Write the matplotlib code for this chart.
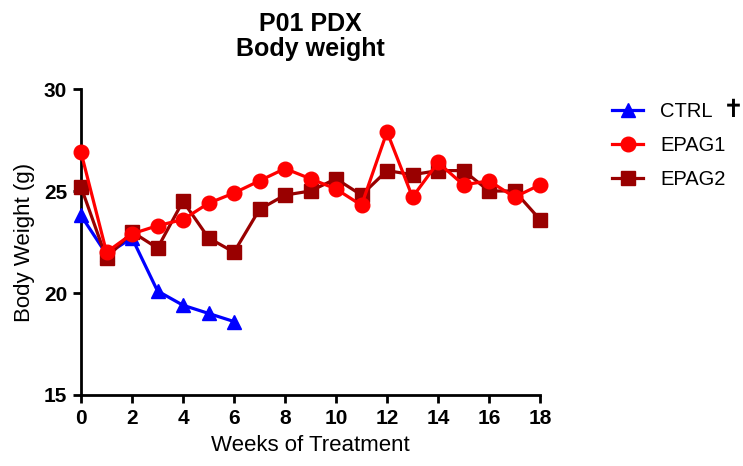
import matplotlib.pyplot as plt

weeks_ctrl = [0, 1, 2, 3, 4, 5, 6]
ctrl = [23.8, 21.9, 22.7, 20.1, 19.4, 19.0, 18.6]

weeks = list(range(19))
epag1 = [26.9, 22.0, 22.9, 23.3, 23.6, 24.4, 24.9, 25.5, 26.1, 25.6,
         25.1, 24.3, 27.9, 24.7, 26.4, 25.3, 25.5, 24.7, 25.3]
epag2 = [25.2, 21.7, 23.0, 22.2, 24.5, 22.7, 22.0, 24.1, 24.8, 25.0,
         25.6, 24.8, 26.0, 25.8, 26.0, 26.0, 25.0, 25.0, 23.6]

plt.rcParams['font.family'] = ['Liberation Sans', 'DejaVu Sans']

fig = plt.figure(figsize=(7.43, 4.66), dpi=100)
ax = fig.add_axes([81 / 743, 1 - 395 / 466, (540 - 81) / 743, (395 - 89) / 466])

ax.plot(weeks_ctrl, ctrl, color='#0000FF', marker='^', markersize=10.5, lw=2.3, label='CTRL', clip_on=False, zorder=3)
ax.plot(weeks, epag1, color='#FF0000', marker='o', markersize=10.5, lw=2.3, label='EPAG1', clip_on=False, zorder=4)
ax.plot(weeks, epag2, color='#990000', marker='s', markersize=9.5, lw=2.3, label='EPAG2', clip_on=False, zorder=3)

ax.set_xlim(0, 18)
ax.set_ylim(15, 30)
ax.set_xticks(range(0, 19, 2))
ax.set_yticks([15, 20, 25, 30])
for s in ['top', 'right']:
    ax.spines[s].set_visible(False)
for s in ['left', 'bottom']:
    ax.spines[s].set_linewidth(2)
ax.tick_params(width=2, length=6, labelsize=15, pad=4)
for lab in ax.get_xticklabels() + ax.get_yticklabels():
    lab.set_fontweight('bold')

ax.set_xlabel('Weeks of Treatment', fontsize=16, labelpad=5)
ax.set_ylabel('Body Weight (g)', fontsize=16, labelpad=6)
ax.set_title('P01 PDX\nBody weight', fontsize=18, fontweight='bold', pad=24, linespacing=1.05)

leg = fig.legend(loc='upper left', bbox_to_anchor=(594 / 743, 1 - 84 / 466), frameon=False,
                 fontsize=14.5, handlelength=1.55, labelspacing=0.75, handletextpad=0.85)
fig.text(733 / 743, 1 - 110 / 466, '\u271d', fontsize=18, fontweight='bold',
         family='DejaVu Sans', va='center', ha='center')

fig.savefig('out.png', dpi=100)
